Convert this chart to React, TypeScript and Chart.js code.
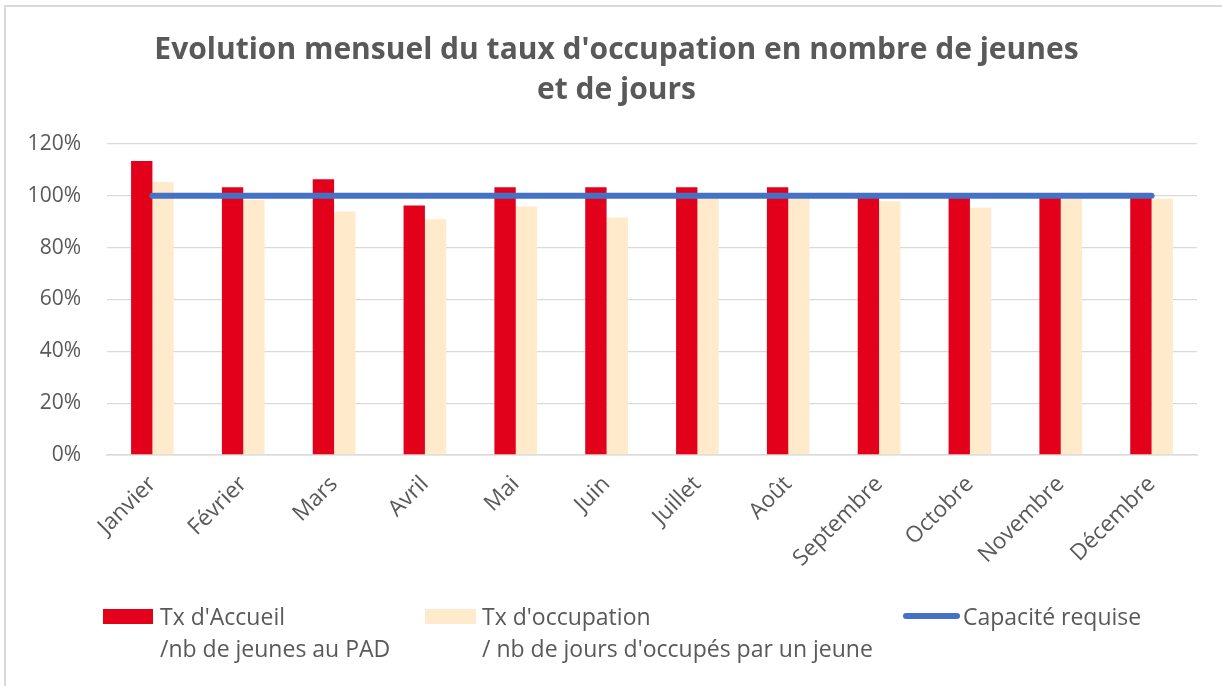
import React, { useEffect, useRef } from "react";
import { Chart, registerables } from "chart.js";

Chart.register(...registerables);

const months = ["Janvier", "Février", "Mars", "Avril", "Mai", "Juin", "Juillet", "Août", "Septembre", "Octobre", "Novembre", "Décembre"];
const txAccueil = [113.4, 103.3, 106.4, 96.3, 103.3, 103.3, 103.3, 103.3, 100, 100, 100, 100];
const txOccupation = [105.3, 98.4, 94.0, 91.0, 95.9, 91.6, 98.9, 98.9, 97.9, 95.4, 98.9, 98.9];
const capacite = [100, 100, 100, 100, 100, 100, 100, 100, 100, 100, 100, 100];
const titleLines = ["Evolution mensuel du taux d'occupation en nombre de jeunes", "et de jours"];
const legendAccueil = ["Tx d'Accueil", "/nb de jeunes au PAD"];
const legendOccupation = ["Tx d'occupation", "/ nb de jours d'occupés par un jeune"];
const legendCapacite = ["Capacité requise"];

const RED = "#E3001B";
const BEIGE = "#FFEBCC";
const BLUE = "#4472C4";
const TEXT = "#595959";
const GRID = "#D9D9D9";
const FONT = "'Open Sans', 'Noto Sans', sans-serif";

export default function App() {
  const ref = useRef<HTMLCanvasElement | null>(null);

  useEffect(() => {
    if (!ref.current) return;
    const chart = new Chart(ref.current, {
      type: "bar",
      data: {
        labels: months,
        datasets: [
          {
            type: "line",
            label: legendCapacite[0],
            data: capacite,
            borderColor: BLUE,
            backgroundColor: BLUE,
            borderWidth: 6,
            borderCapStyle: "round",
            pointRadius: 0,
            pointHoverRadius: 0,
            tension: 0,
            order: 0,
          } as any,
          {
            type: "bar",
            label: legendAccueil.join(" "),
            data: txAccueil,
            backgroundColor: RED,
            borderWidth: 0,
            categoryPercentage: 0.47,
            barPercentage: 1,
            order: 1,
          },
          {
            type: "bar",
            label: legendOccupation.join(" "),
            data: txOccupation,
            backgroundColor: BEIGE,
            borderWidth: 0,
            categoryPercentage: 0.47,
            barPercentage: 1,
            order: 2,
          },
        ],
      },
      options: {
        responsive: false,
        animation: false,
        devicePixelRatio: 1,
        layout: { padding: { top: 144, right: 25, left: 0, bottom: 0 } },
        plugins: {
          legend: { display: false },
          title: { display: false },
          tooltip: { enabled: false },
        },
        scales: {
          x: {
            grid: { display: false, drawTicks: false },
            border: { display: true, color: GRID, width: 1.5 },
            ticks: {
              color: TEXT,
              font: { family: FONT, size: 22.5 },
              maxRotation: 45,
              minRotation: 45,
              padding: 16,
              autoSkip: false,
            },
            afterFit: (s: any) => {
              s.height = 231;
            },
          },
          y: {
            min: 0,
            max: 120,
            grid: { color: GRID, lineWidth: 1.3, drawTicks: false },
            border: { display: false },
            ticks: {
              stepSize: 20,
              color: TEXT,
              font: { family: FONT, size: 21 },
              padding: 26,
              callback: (v: any) => v + "%",
            },
            afterFit: (s: any) => {
              s.width = 107;
            },
          },
        },
      },
    });
    return () => chart.destroy();
  }, []);

  const legendText: React.CSSProperties = {
    position: "fixed",
    fontFamily: FONT,
    fontSize: 23,
    lineHeight: "32px",
    color: TEXT,
    whiteSpace: "nowrap",
    top: 600,
  };

  return (
    <div>
      <div
        style={{
          position: "fixed",
          left: 4,
          top: 5,
          width: 1260,
          height: 720,
          border: "2px solid #D9D9D9",
          background: "#fff",
          boxSizing: "border-box",
        }}
      />
      <canvas ref={ref} width={1222} height={686} style={{ position: "fixed", left: 0, top: 0 }} />
      <div
        style={{
          position: "fixed",
          left: 0,
          top: 28,
          width: 1233,
          textAlign: "center",
          fontFamily: FONT,
          fontWeight: 700,
          fontSize: 30,
          lineHeight: "40px",
          color: TEXT,
        }}
      >
        {titleLines.map((t, i) => (
          <div key={i}>{t}</div>
        ))}
      </div>
      <div style={{ position: "fixed", left: 103, top: 609, width: 50, height: 15, background: RED }} />
      <div style={{ ...legendText, left: 160 }}>
        {legendAccueil.map((t, i) => (
          <div key={i}>{t}</div>
        ))}
      </div>
      <div style={{ position: "fixed", left: 425, top: 609, width: 51, height: 15, background: BEIGE }} />
      <div style={{ ...legendText, left: 482 }}>
        {legendOccupation.map((t, i) => (
          <div key={i}>{t}</div>
        ))}
      </div>
      <div style={{ position: "fixed", left: 903, top: 613, width: 57, height: 6, borderRadius: 3, background: BLUE }} />
      <div style={{ ...legendText, left: 963 }}>
        {legendCapacite.map((t, i) => (
          <div key={i}>{t}</div>
        ))}
      </div>
    </div>
  );
}
